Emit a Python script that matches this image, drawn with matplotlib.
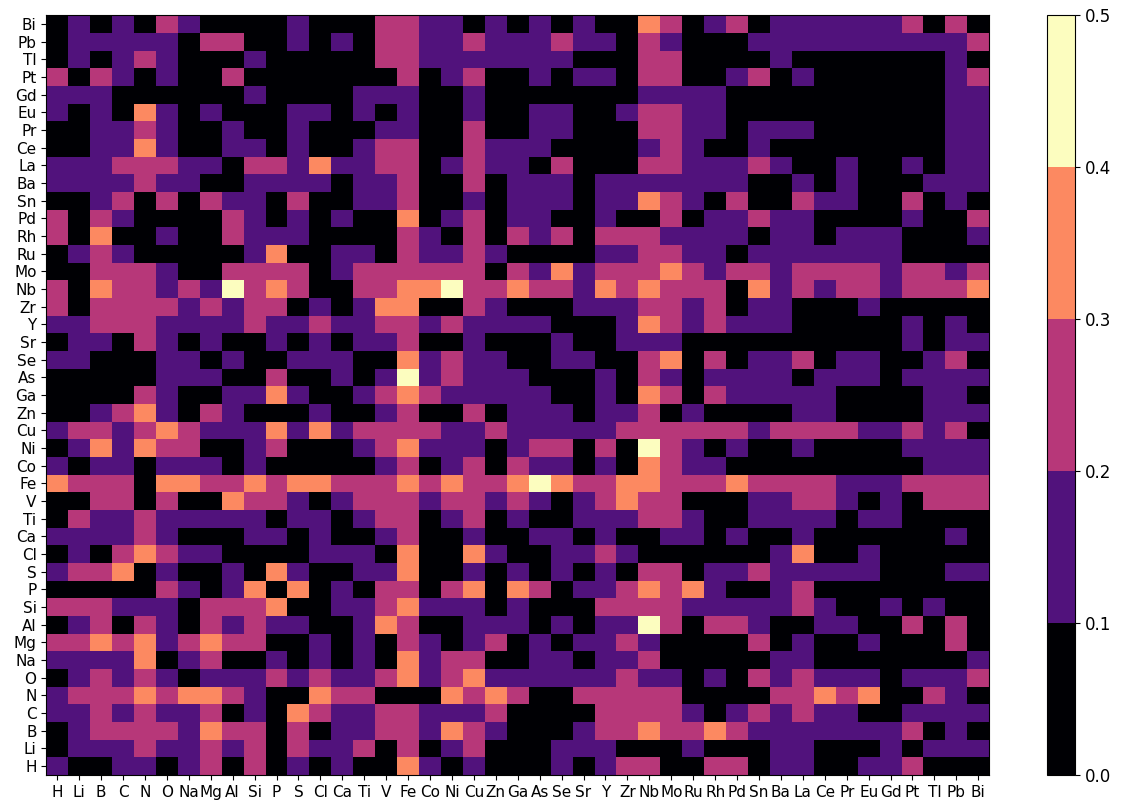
import numpy as np
import matplotlib
matplotlib.use("Agg")
import matplotlib.pyplot as plt
from matplotlib.colors import BoundaryNorm

elements = ["H", "Li", "B", "C", "N", "O", "Na", "Mg", "Al", "Si", "P", "S", "Cl",
            "Ca", "Ti", "V", "Fe", "Co", "Ni", "Cu", "Zn", "Ga", "As", "Se", "Sr",
            "Y", "Zr", "Nb", "Mo", "Ru", "Rh", "Pd", "Sn", "Ba", "La", "Ce", "Pr",
            "Eu", "Gd", "Pt", "Tl", "Pb", "Bi"]

# one string per row, top (Bi) to bottom (H); each digit is the 0.1-wide bin read
# off the picture (0 -> 0.0-0.1, 1 -> 0.1-0.2, ... 4 -> 0.4-0.5), columns H..Bi
rows_top_down = [
    "01010210000" "10002211010" "10100320120" "1111112020",  # Bi
    "01111102200" "10102211211" "12110210001" "1111111112",  # Pb
    "01012100010" "00002211111" "11000220000" "1000000010",  # Tl
    "20210100200" "00000201200" "10110220012" "0100000012",  # Pt
    "11100000010" "00011100100" "00000111100" "0000000011",  # Gd
    "10103101000" "11010100100" "11001221100" "0000000011",  # Eu
    "00112100100" "10001100200" "11000221101" "1100000011",  # Pr
    "00113100110" "10012200211" "10000121001" "0000000011",  # Ce
    "11122211022" "13112201211" "02000221112" "1001001011",  # La
    "11112110011" "11011200201" "11011111110" "0101000111",  # Ba
    "00120202110" "20011200101" "11011321020" "0211002010",  # Sn
    "20210000210" "10100301201" "10010020112" "1100001002",  # Pd
    "20300100211" "10000210202" "12022211110" "1101110001",  # Rh
    "01210000013" "00110211210" "00011221101" "1111110000",  # Ru
    "00222100222" "20122222202" "13122232122" "1222212212",  # Mo
    "20322121423" "20022334223" "22132322203" "1212212223",  # Nb
    "20222212122" "01013300210" "00111221201" "1000100000",  # Zr
    "11222111121" "12112212111" "10001321211" "1000001010",  # Y
    "01102101001" "01011200100" "01001110000" "0000001011",  # Sr
    "11000110100" "11100312110" "01100230201" "1201100120",  # Se
    "00000111002" "00101412111" "00010210111" "1011101111",  # As
    "00002100113" "10012321111" "10010320211" "1110000110",  # Ga
    "00123102100" "01001200201" "11011201000" "0110000111",  # Zn
    "12212321113" "13122221121" "11112222221" "2222112120",  # Cu
    "01313220012" "00012311101" "22020421010" "0100001111",  # Ni
    "10110111010" "00001201202" "11010321100" "0000000111",  # Co
    "32220332232" "33222323223" "43223322232" "2221112222",  # Fe
    "00220200322" "10122212212" "10123220001" "1221010222",  # V
    "02112111110" "11012201201" "00111221001" "1110110000",  # Ti
    "11112100011" "01001200100" "11010011010" "0100000010",  # Ca
    "01023211000" "01110300310" "01121000000" "1300100000",  # Cl
    "12230100103" "10011300101" "01010220112" "1111100011",  # S
    "00000210130" "30102202303" "20112323100" "1200000000",  # P
    "22211102223" "00112311101" "00022221111" "1210010100",  # Si
    "01202102121" "10013200111" "01011420221" "0011002020",  # Al
    "22323123220" "01010210120" "10112100002" "0100100020",  # Mg
    "11113012001" "01010312200" "11011200000" "1100000001",  # Na
    "01212101112" "12112312311" "11112110102" "1211101112",  # O
    "12223233210" "03220003232" "00222220000" "2232300210",  # N
    "11212112010" "32112211120" "00022221012" "1211001111",  # C
    "01222213220" "20112213210" "00122322321" "1111112010",  # B
    "01112112120" "21120201200" "01110001000" "1100010111",  # Li
    "10011012020" "10100310100" "01012200220" "1100112000",  # H
]

bounds = [0.0, 0.1, 0.2, 0.3, 0.4, 0.5]

# bottom row is H, so flip the list; bin digit -> middle of its bin
grid = np.array([[int(c) for c in r] for r in rows_top_down[::-1]])
values = (grid + 0.5) / 10.0

fig = plt.figure(figsize=(11.28, 8.01), dpi=100)
ax = fig.add_axes([0.041, 0.0325, 0.836, 0.9485])
cax = fig.add_axes([0.928, 0.0325, 0.025, 0.9485])

cmap = plt.get_cmap("magma", 5)
norm = BoundaryNorm(bounds, cmap.N)
mesh = ax.pcolormesh(values, cmap=cmap, norm=norm)

n = len(elements)
ax.set_xticks(np.arange(n) + 0.5)
ax.set_xticklabels(elements, fontsize=11)
ax.set_yticks(np.arange(n) + 0.5)
ax.set_yticklabels(elements, fontsize=11)
ax.set_xlim(0, n)
ax.set_ylim(0, n)

cb = fig.colorbar(mesh, cax=cax, ticks=bounds)
cb.ax.tick_params(labelsize=12)

fig.savefig("out.png", dpi=100)
